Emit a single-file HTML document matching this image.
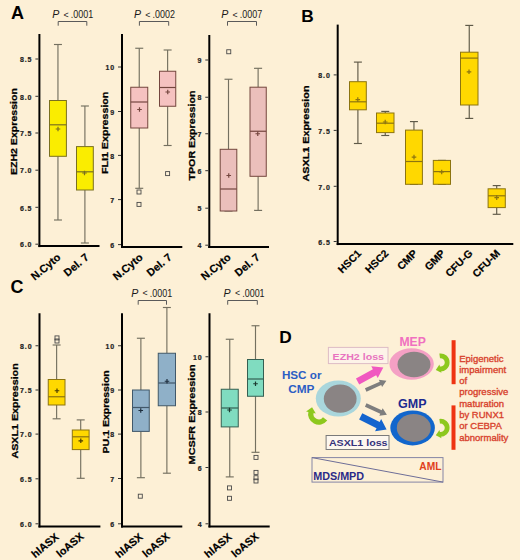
<!DOCTYPE html>
<html><head><meta charset="utf-8"><style>
html,body{margin:0;padding:0;background:#FDF0D6;}
svg{display:block;}
text{font-family:"Liberation Sans",sans-serif;}
.tk{font-family:"Liberation Sans",sans-serif;font-weight:bold;font-size:7px;letter-spacing:0.9px;fill:#222;stroke:#222;stroke-width:0.2px;}
.yl{font-weight:bold;fill:#000;stroke:#000;stroke-width:0.25px;}
.xl{font-weight:bold;fill:#000;stroke:#000;stroke-width:0.2px;}
.pv{font-size:11px;fill:#1a1a1a;}
.pl{font-weight:bold;font-size:18px;fill:#000;}
.dt{font-weight:bold;font-size:11px;}
.dt2{font-weight:bold;font-size:12.5px;}
.rt{font-size:9.5px;fill:#D8432E;stroke:#D8432E;stroke-width:0.35px;}
</style></head><body>
<svg width="520" height="560" viewBox="0 0 520 560">
<rect width="520" height="560" fill="#FDF0D6"/>
<text x="11" y="18.7" class="pl" style="font-size:18px">A</text>
<line x1="39.4" y1="34" x2="39.4" y2="247.1" stroke="#000" stroke-width="2"/>
<line x1="38.4" y1="246.1" x2="99.5" y2="246.1" stroke="#000" stroke-width="2"/>
<line x1="35.4" y1="59" x2="38.4" y2="59" stroke="#333" stroke-width="1"/>
<text x="32.4" y="62.2" class="tk" text-anchor="end">8.5</text>
<line x1="35.4" y1="96.3" x2="38.4" y2="96.3" stroke="#333" stroke-width="1"/>
<text x="32.4" y="99.5" class="tk" text-anchor="end">8.0</text>
<line x1="35.4" y1="133" x2="38.4" y2="133" stroke="#333" stroke-width="1"/>
<text x="32.4" y="136.2" class="tk" text-anchor="end">7.5</text>
<line x1="35.4" y1="170.2" x2="38.4" y2="170.2" stroke="#333" stroke-width="1"/>
<text x="32.4" y="173.4" class="tk" text-anchor="end">7.0</text>
<line x1="35.4" y1="207.3" x2="38.4" y2="207.3" stroke="#333" stroke-width="1"/>
<text x="32.4" y="210.5" class="tk" text-anchor="end">6.5</text>
<line x1="35.4" y1="244.2" x2="38.4" y2="244.2" stroke="#333" stroke-width="1"/>
<text x="32.4" y="247.4" class="tk" text-anchor="end">6.0</text>
<text x="52.2" y="18" class="pv" font-style="italic" style="font-size:10.6px">P</text>
<text x="63.5" y="17.6" class="pv" style="font-size:8.8px">&lt;</text>
<text x="70.8" y="18" class="pv" style="font-size:10.4px" textLength="22.4" lengthAdjust="spacingAndGlyphs">.0001</text>
<path d="M58.2 25.7V21.5H86.8V25.7" fill="none" stroke="#5a5a5a" stroke-width="1"/>
<line x1="57.95" y1="44.5" x2="57.95" y2="100.5" stroke="#747060" stroke-width="1.15"/>
<line x1="53.95" y1="44.5" x2="61.95" y2="44.5" stroke="#747060" stroke-width="1.15"/>
<line x1="57.95" y1="156.3" x2="57.95" y2="220" stroke="#747060" stroke-width="1.15"/>
<line x1="53.95" y1="220" x2="61.95" y2="220" stroke="#747060" stroke-width="1.15"/>
<rect x="49.5" y="100.5" width="16.9" height="55.8" fill="#FAED00" stroke="#7A7020" stroke-width="1"/>
<line x1="49.5" y1="124.8" x2="66.4" y2="124.8" stroke="#7A7020" stroke-width="1.2"/>
<path d="M55.7 129h4.6M58 126.7v4.6" stroke="#7A7020" stroke-width="1.2"/>
<line x1="84.9" y1="106" x2="84.9" y2="146.6" stroke="#747060" stroke-width="1.15"/>
<line x1="80.9" y1="106" x2="88.9" y2="106" stroke="#747060" stroke-width="1.15"/>
<line x1="84.9" y1="190" x2="84.9" y2="243" stroke="#747060" stroke-width="1.15"/>
<line x1="80.9" y1="243" x2="88.9" y2="243" stroke="#747060" stroke-width="1.15"/>
<rect x="76.5" y="146.6" width="16.8" height="43.4" fill="#FAED00" stroke="#7A7020" stroke-width="1"/>
<line x1="76.5" y1="171.8" x2="93.3" y2="171.8" stroke="#7A7020" stroke-width="1.2"/>
<path d="M82.2 173h4.6M84.5 170.7v4.6" stroke="#7A7020" stroke-width="1.2"/>
<text transform="translate(16.8,175.1) rotate(-90)" class="yl" style="font-size:9.4px" textLength="87" lengthAdjust="spacingAndGlyphs">EZH2 Expression</text>
<text transform="translate(61.3,258.5) rotate(-40)" class="xl" text-anchor="end" style="font-size:10.8px">N.Cyto</text>
<text transform="translate(89.5,258.5) rotate(-40)" class="xl" text-anchor="end" style="font-size:10.8px">Del. 7</text>
<line x1="122" y1="34" x2="122" y2="248" stroke="#000" stroke-width="2"/>
<line x1="121" y1="247" x2="182.3" y2="247" stroke="#000" stroke-width="2"/>
<line x1="118" y1="67" x2="121" y2="67" stroke="#333" stroke-width="1"/>
<text x="115" y="70.2" class="tk" text-anchor="end">10</text>
<line x1="118" y1="111.5" x2="121" y2="111.5" stroke="#333" stroke-width="1"/>
<text x="115" y="114.7" class="tk" text-anchor="end">9</text>
<line x1="118" y1="155.4" x2="121" y2="155.4" stroke="#333" stroke-width="1"/>
<text x="115" y="158.6" class="tk" text-anchor="end">8</text>
<line x1="118" y1="199.6" x2="121" y2="199.6" stroke="#333" stroke-width="1"/>
<text x="115" y="202.8" class="tk" text-anchor="end">7</text>
<line x1="118" y1="244.6" x2="121" y2="244.6" stroke="#333" stroke-width="1"/>
<text x="115" y="247.8" class="tk" text-anchor="end">6</text>
<text x="133.9" y="17.9" class="pv" font-style="italic" style="font-size:10.6px">P</text>
<text x="145.2" y="17.5" class="pv" style="font-size:8.8px">&lt;</text>
<text x="152.5" y="17.9" class="pv" style="font-size:10.4px" textLength="22.4" lengthAdjust="spacingAndGlyphs">.0002</text>
<path d="M139.4 25.7V21.5H168.7V25.7" fill="none" stroke="#5a5a5a" stroke-width="1"/>
<line x1="139.25" y1="48.25" x2="139.25" y2="87.25" stroke="#747060" stroke-width="1.15"/>
<line x1="135.25" y1="48.25" x2="143.25" y2="48.25" stroke="#747060" stroke-width="1.15"/>
<line x1="139.25" y1="128" x2="139.25" y2="188.3" stroke="#747060" stroke-width="1.15"/>
<line x1="135.25" y1="188.3" x2="143.25" y2="188.3" stroke="#747060" stroke-width="1.15"/>
<rect x="130.75" y="87.25" width="17" height="40.75" fill="#F5C2C0" stroke="#74463E" stroke-width="1"/>
<line x1="130.75" y1="102" x2="147.75" y2="102" stroke="#74463E" stroke-width="1.2"/>
<path d="M137.2 109.5h4.6M139.5 107.2v4.6" stroke="#74463E" stroke-width="1.2"/>
<rect x="137" y="190" width="4" height="4" fill="none" stroke="#4a4a4a" stroke-width="0.9"/>
<rect x="137" y="202.4" width="4" height="4" fill="none" stroke="#4a4a4a" stroke-width="0.9"/>
<line x1="167.62" y1="50" x2="167.62" y2="71.25" stroke="#747060" stroke-width="1.15"/>
<line x1="163.62" y1="50" x2="171.62" y2="50" stroke="#747060" stroke-width="1.15"/>
<line x1="167.62" y1="106.25" x2="167.62" y2="145.5" stroke="#747060" stroke-width="1.15"/>
<line x1="163.62" y1="145.5" x2="171.62" y2="145.5" stroke="#747060" stroke-width="1.15"/>
<rect x="159.5" y="71.25" width="16.25" height="35" fill="#F5C2C0" stroke="#74463E" stroke-width="1"/>
<line x1="159.5" y1="87.5" x2="175.75" y2="87.5" stroke="#74463E" stroke-width="1.2"/>
<path d="M165.45 92h4.6M167.75 89.7v4.6" stroke="#74463E" stroke-width="1.2"/>
<rect x="165.6" y="171.6" width="4" height="4" fill="none" stroke="#4a4a4a" stroke-width="0.9"/>
<text transform="translate(108.1,174.1) rotate(-90)" class="yl" style="font-size:9.4px" textLength="82.5" lengthAdjust="spacingAndGlyphs">FLI1 Expression</text>
<text transform="translate(143.5,258.5) rotate(-40)" class="xl" text-anchor="end" style="font-size:10.8px">N.Cyto</text>
<text transform="translate(172.5,258.5) rotate(-40)" class="xl" text-anchor="end" style="font-size:10.8px">Del. 7</text>
<line x1="209.3" y1="35" x2="209.3" y2="248" stroke="#000" stroke-width="2"/>
<line x1="208.3" y1="247" x2="269" y2="247" stroke="#000" stroke-width="2"/>
<line x1="205.3" y1="60" x2="208.3" y2="60" stroke="#333" stroke-width="1"/>
<text x="202.3" y="63.2" class="tk" text-anchor="end">9</text>
<line x1="205.3" y1="97.25" x2="208.3" y2="97.25" stroke="#333" stroke-width="1"/>
<text x="202.3" y="100.45" class="tk" text-anchor="end">8</text>
<line x1="205.3" y1="133.75" x2="208.3" y2="133.75" stroke="#333" stroke-width="1"/>
<text x="202.3" y="136.95" class="tk" text-anchor="end">7</text>
<line x1="205.3" y1="170.7" x2="208.3" y2="170.7" stroke="#333" stroke-width="1"/>
<text x="202.3" y="173.9" class="tk" text-anchor="end">6</text>
<line x1="205.3" y1="208.2" x2="208.3" y2="208.2" stroke="#333" stroke-width="1"/>
<text x="202.3" y="211.4" class="tk" text-anchor="end">5</text>
<line x1="205.3" y1="245.2" x2="208.3" y2="245.2" stroke="#333" stroke-width="1"/>
<text x="202.3" y="248.4" class="tk" text-anchor="end">4</text>
<text x="221.2" y="17.9" class="pv" font-style="italic" style="font-size:10.6px">P</text>
<text x="232.5" y="17.5" class="pv" style="font-size:8.8px">&lt;</text>
<text x="239.8" y="17.9" class="pv" style="font-size:10.4px" textLength="22.4" lengthAdjust="spacingAndGlyphs">.0007</text>
<path d="M227.5 25.7V21.5H256.5V25.7" fill="none" stroke="#5a5a5a" stroke-width="1"/>
<line x1="228.5" y1="79.25" x2="228.5" y2="149.3" stroke="#747060" stroke-width="1.15"/>
<line x1="224.5" y1="79.25" x2="232.5" y2="79.25" stroke="#747060" stroke-width="1.15"/>
<line x1="224.5" y1="211" x2="232.5" y2="211" stroke="#747060" stroke-width="1.15"/>
<rect x="220.2" y="149.3" width="16.6" height="61.7" fill="#EBBFBB" stroke="#74463E" stroke-width="1"/>
<line x1="220.2" y1="189" x2="236.8" y2="189" stroke="#74463E" stroke-width="1.2"/>
<path d="M226.45 175.5h4.6M228.75 173.2v4.6" stroke="#74463E" stroke-width="1.2"/>
<rect x="226.75" y="49.75" width="4" height="4" fill="none" stroke="#4a4a4a" stroke-width="0.9"/>
<line x1="258.12" y1="68.3" x2="258.12" y2="87.2" stroke="#747060" stroke-width="1.15"/>
<line x1="254.12" y1="68.3" x2="262.12" y2="68.3" stroke="#747060" stroke-width="1.15"/>
<line x1="258.12" y1="176.3" x2="258.12" y2="210.4" stroke="#747060" stroke-width="1.15"/>
<line x1="254.12" y1="210.4" x2="262.12" y2="210.4" stroke="#747060" stroke-width="1.15"/>
<rect x="250" y="87.2" width="16.25" height="89.1" fill="#EBBFBB" stroke="#74463E" stroke-width="1"/>
<line x1="250" y1="131.25" x2="266.25" y2="131.25" stroke="#74463E" stroke-width="1.2"/>
<path d="M255.45 133.75h4.6M257.75 131.45v4.6" stroke="#74463E" stroke-width="1.2"/>
<text transform="translate(194.8,180.5) rotate(-90)" class="yl" style="font-size:9.4px" textLength="90" lengthAdjust="spacingAndGlyphs">TPOR Expression</text>
<text transform="translate(231.5,258.5) rotate(-40)" class="xl" text-anchor="end" style="font-size:10.8px">N.Cyto</text>
<text transform="translate(260.5,258.5) rotate(-40)" class="xl" text-anchor="end" style="font-size:10.8px">Del. 7</text>
<text x="301.2" y="22.3" class="pl" style="font-size:17.3px">B</text>
<line x1="337.7" y1="24.6" x2="337.7" y2="245.1" stroke="#000" stroke-width="2"/>
<line x1="336.7" y1="244.1" x2="513.3" y2="244.1" stroke="#000" stroke-width="2"/>
<line x1="333.7" y1="74.9" x2="336.7" y2="74.9" stroke="#333" stroke-width="1"/>
<text x="330.7" y="78.1" class="tk" text-anchor="end">8.0</text>
<line x1="333.7" y1="130.4" x2="336.7" y2="130.4" stroke="#333" stroke-width="1"/>
<text x="330.7" y="133.6" class="tk" text-anchor="end">7.5</text>
<line x1="333.7" y1="186.3" x2="336.7" y2="186.3" stroke="#333" stroke-width="1"/>
<text x="330.7" y="189.5" class="tk" text-anchor="end">7.0</text>
<line x1="333.7" y1="241.5" x2="336.7" y2="241.5" stroke="#333" stroke-width="1"/>
<text x="330.7" y="244.7" class="tk" text-anchor="end">6.5</text>
<line x1="357.9" y1="62.1" x2="357.9" y2="81.7" stroke="#5f5a48" stroke-width="1.15"/>
<line x1="353.9" y1="62.1" x2="361.9" y2="62.1" stroke="#5f5a48" stroke-width="1.15"/>
<line x1="357.9" y1="109.8" x2="357.9" y2="143.5" stroke="#5f5a48" stroke-width="1.15"/>
<line x1="353.9" y1="143.5" x2="361.9" y2="143.5" stroke="#5f5a48" stroke-width="1.15"/>
<rect x="349.5" y="81.7" width="16.8" height="28.1" fill="#FFD800" stroke="#8C7410" stroke-width="1"/>
<line x1="349.5" y1="101.8" x2="366.3" y2="101.8" stroke="#8C7410" stroke-width="1.2"/>
<path d="M355.5 99.6h4.6M357.8 97.3v4.6" stroke="#8C7410" stroke-width="1.2"/>
<line x1="385.25" y1="111.4" x2="385.25" y2="113" stroke="#5f5a48" stroke-width="1.15"/>
<line x1="381.25" y1="111.4" x2="389.25" y2="111.4" stroke="#5f5a48" stroke-width="1.15"/>
<line x1="385.25" y1="132.6" x2="385.25" y2="135.5" stroke="#5f5a48" stroke-width="1.15"/>
<line x1="381.25" y1="135.5" x2="389.25" y2="135.5" stroke="#5f5a48" stroke-width="1.15"/>
<rect x="376.5" y="113" width="17.5" height="19.6" fill="#FFD800" stroke="#8C7410" stroke-width="1"/>
<line x1="376.5" y1="123.2" x2="394" y2="123.2" stroke="#8C7410" stroke-width="1.2"/>
<path d="M382.9 122h4.6M385.2 119.7v4.6" stroke="#8C7410" stroke-width="1.2"/>
<line x1="413.95" y1="121.6" x2="413.95" y2="130.1" stroke="#5f5a48" stroke-width="1.15"/>
<line x1="409.95" y1="121.6" x2="417.95" y2="121.6" stroke="#5f5a48" stroke-width="1.15"/>
<line x1="409.95" y1="184.3" x2="417.95" y2="184.3" stroke="#5f5a48" stroke-width="1.15"/>
<rect x="405.5" y="130.1" width="16.9" height="54.2" fill="#FFD800" stroke="#8C7410" stroke-width="1"/>
<line x1="405.5" y1="161.5" x2="422.4" y2="161.5" stroke="#8C7410" stroke-width="1.2"/>
<path d="M411.7 157.1h4.6M414 154.8v4.6" stroke="#8C7410" stroke-width="1.2"/>
<line x1="437.9" y1="160.4" x2="445.9" y2="160.4" stroke="#5f5a48" stroke-width="1.15"/>
<line x1="437.9" y1="184.3" x2="445.9" y2="184.3" stroke="#5f5a48" stroke-width="1.15"/>
<rect x="433.3" y="160.4" width="17.2" height="23.9" fill="#FFD800" stroke="#8C7410" stroke-width="1"/>
<line x1="433.3" y1="171.6" x2="450.5" y2="171.6" stroke="#8C7410" stroke-width="1.2"/>
<path d="M439.4 172h4.6M441.7 169.7v4.6" stroke="#8C7410" stroke-width="1.2"/>
<line x1="469.25" y1="25.4" x2="469.25" y2="52.2" stroke="#5f5a48" stroke-width="1.15"/>
<line x1="465.25" y1="25.4" x2="473.25" y2="25.4" stroke="#5f5a48" stroke-width="1.15"/>
<line x1="469.25" y1="105" x2="469.25" y2="118.4" stroke="#5f5a48" stroke-width="1.15"/>
<line x1="465.25" y1="118.4" x2="473.25" y2="118.4" stroke="#5f5a48" stroke-width="1.15"/>
<rect x="460.5" y="52.2" width="17.5" height="52.8" fill="#FFD800" stroke="#8C7410" stroke-width="1"/>
<line x1="460.5" y1="58.1" x2="478" y2="58.1" stroke="#8C7410" stroke-width="1.2"/>
<path d="M466.7 71.8h4.6M469 69.5v4.6" stroke="#8C7410" stroke-width="1.2"/>
<line x1="496.7" y1="185.6" x2="496.7" y2="188.8" stroke="#5f5a48" stroke-width="1.15"/>
<line x1="492.7" y1="185.6" x2="500.7" y2="185.6" stroke="#5f5a48" stroke-width="1.15"/>
<line x1="496.7" y1="207.6" x2="496.7" y2="214.3" stroke="#5f5a48" stroke-width="1.15"/>
<line x1="492.7" y1="214.3" x2="500.7" y2="214.3" stroke="#5f5a48" stroke-width="1.15"/>
<rect x="488.1" y="188.8" width="17.2" height="18.8" fill="#FFD800" stroke="#8C7410" stroke-width="1"/>
<line x1="488.1" y1="195.8" x2="505.3" y2="195.8" stroke="#8C7410" stroke-width="1.2"/>
<path d="M494.4 197.6h4.6M496.7 195.3v4.6" stroke="#8C7410" stroke-width="1.2"/>
<text transform="translate(309.3,181.5) rotate(-90)" class="yl" style="font-size:9.4px" textLength="96" lengthAdjust="spacingAndGlyphs">ASXL1 Expression</text>
<text transform="translate(362,254) rotate(-45)" class="xl" text-anchor="end" style="font-size:10.5px">HSC1</text>
<text transform="translate(389.2,254) rotate(-45)" class="xl" text-anchor="end" style="font-size:10.5px">HSC2</text>
<text transform="translate(418,254) rotate(-45)" class="xl" text-anchor="end" style="font-size:10.5px">CMP</text>
<text transform="translate(445.8,254) rotate(-45)" class="xl" text-anchor="end" style="font-size:10.5px">GMP</text>
<text transform="translate(473.2,254) rotate(-45)" class="xl" text-anchor="end" style="font-size:10.5px">CFU-G</text>
<text transform="translate(500.7,254) rotate(-45)" class="xl" text-anchor="end" style="font-size:10.5px">CFU-M</text>
<text x="10.6" y="292.6" class="pl" style="font-size:18px">C</text>
<line x1="39.5" y1="313.25" x2="39.5" y2="527.4" stroke="#000" stroke-width="2"/>
<line x1="38.5" y1="526.4" x2="100.4" y2="526.4" stroke="#000" stroke-width="2"/>
<line x1="35.5" y1="345.75" x2="38.5" y2="345.75" stroke="#333" stroke-width="1"/>
<text x="32.5" y="348.95" class="tk" text-anchor="end">8.0</text>
<line x1="35.5" y1="390" x2="38.5" y2="390" stroke="#333" stroke-width="1"/>
<text x="32.5" y="393.2" class="tk" text-anchor="end">7.5</text>
<line x1="35.5" y1="434.1" x2="38.5" y2="434.1" stroke="#333" stroke-width="1"/>
<text x="32.5" y="437.3" class="tk" text-anchor="end">7.0</text>
<line x1="35.5" y1="478.8" x2="38.5" y2="478.8" stroke="#333" stroke-width="1"/>
<text x="32.5" y="482" class="tk" text-anchor="end">6.5</text>
<line x1="35.5" y1="523.8" x2="38.5" y2="523.8" stroke="#333" stroke-width="1"/>
<text x="32.5" y="527" class="tk" text-anchor="end">6.0</text>
<line x1="56.62" y1="345" x2="56.62" y2="379.5" stroke="#747060" stroke-width="1.15"/>
<line x1="52.62" y1="345" x2="60.62" y2="345" stroke="#747060" stroke-width="1.15"/>
<line x1="56.62" y1="405" x2="56.62" y2="418.8" stroke="#747060" stroke-width="1.15"/>
<line x1="52.62" y1="418.8" x2="60.62" y2="418.8" stroke="#747060" stroke-width="1.15"/>
<rect x="48.25" y="379.5" width="16.75" height="25.5" fill="#FFD800" stroke="#8C7410" stroke-width="1"/>
<line x1="48.25" y1="396.75" x2="65" y2="396.75" stroke="#8C7410" stroke-width="1.2"/>
<path d="M54.7 390.75h4.6M57 388.45v4.6" stroke="#4A3C00" stroke-width="1.2"/>
<rect x="55" y="335.9" width="4" height="4" fill="none" stroke="#4a4a4a" stroke-width="0.9"/>
<rect x="55" y="339" width="4" height="4" fill="none" stroke="#4a4a4a" stroke-width="0.9"/>
<line x1="80.7" y1="419.9" x2="80.7" y2="430" stroke="#747060" stroke-width="1.15"/>
<line x1="76.7" y1="419.9" x2="84.7" y2="419.9" stroke="#747060" stroke-width="1.15"/>
<line x1="80.7" y1="449.6" x2="80.7" y2="478.3" stroke="#747060" stroke-width="1.15"/>
<line x1="76.7" y1="478.3" x2="84.7" y2="478.3" stroke="#747060" stroke-width="1.15"/>
<rect x="72.3" y="430" width="16.8" height="19.6" fill="#FFD800" stroke="#8C7410" stroke-width="1"/>
<line x1="72.3" y1="436.8" x2="89.1" y2="436.8" stroke="#8C7410" stroke-width="1.2"/>
<path d="M78.5 440.8h4.6M80.8 438.5v4.6" stroke="#4A3C00" stroke-width="1.2"/>
<text transform="translate(17.7,458.5) rotate(-90)" class="yl" style="font-size:9.4px" textLength="95.2" lengthAdjust="spacingAndGlyphs">ASXL1 Expression</text>
<text transform="translate(59.5,538) rotate(-40)" class="xl" text-anchor="end" style="font-size:10.8px">hlASX</text>
<text transform="translate(84.5,537.5) rotate(-40)" class="xl" text-anchor="end" style="font-size:10.8px">loASX</text>
<line x1="122" y1="313.25" x2="122" y2="527.4" stroke="#000" stroke-width="2"/>
<line x1="121" y1="526.4" x2="182.3" y2="526.4" stroke="#000" stroke-width="2"/>
<line x1="118" y1="345.75" x2="121" y2="345.75" stroke="#333" stroke-width="1"/>
<text x="115" y="348.95" class="tk" text-anchor="end">10</text>
<line x1="118" y1="390" x2="121" y2="390" stroke="#333" stroke-width="1"/>
<text x="115" y="393.2" class="tk" text-anchor="end">9</text>
<line x1="118" y1="434.1" x2="121" y2="434.1" stroke="#333" stroke-width="1"/>
<text x="115" y="437.3" class="tk" text-anchor="end">8</text>
<line x1="118" y1="478.5" x2="121" y2="478.5" stroke="#333" stroke-width="1"/>
<text x="115" y="481.7" class="tk" text-anchor="end">7</text>
<line x1="118" y1="523.8" x2="121" y2="523.8" stroke="#333" stroke-width="1"/>
<text x="115" y="527" class="tk" text-anchor="end">6</text>
<text x="131.2" y="296.8" class="pv" font-style="italic" style="font-size:10.6px">P</text>
<text x="142.5" y="296.4" class="pv" style="font-size:8.8px">&lt;</text>
<text x="149.8" y="296.8" class="pv" style="font-size:10.4px" textLength="22.4" lengthAdjust="spacingAndGlyphs">.0001</text>
<path d="M138.2 304.7V300.5H166.5V304.7" fill="none" stroke="#5a5a5a" stroke-width="1"/>
<line x1="140.88" y1="338.25" x2="140.88" y2="390" stroke="#747060" stroke-width="1.15"/>
<line x1="136.88" y1="338.25" x2="144.88" y2="338.25" stroke="#747060" stroke-width="1.15"/>
<line x1="140.88" y1="431.4" x2="140.88" y2="477.7" stroke="#747060" stroke-width="1.15"/>
<line x1="136.88" y1="477.7" x2="144.88" y2="477.7" stroke="#747060" stroke-width="1.15"/>
<rect x="132.5" y="390" width="16.75" height="41.4" fill="#8FB0C8" stroke="#41586A" stroke-width="1"/>
<line x1="132.5" y1="407.5" x2="149.25" y2="407.5" stroke="#41586A" stroke-width="1.2"/>
<path d="M138.45 410.5h4.6M140.75 408.2v4.6" stroke="#1E2E3E" stroke-width="1.2"/>
<rect x="138.3" y="494.2" width="4" height="4" fill="none" stroke="#4a4a4a" stroke-width="0.9"/>
<line x1="166.88" y1="307.5" x2="166.88" y2="353.25" stroke="#747060" stroke-width="1.15"/>
<line x1="162.88" y1="307.5" x2="170.88" y2="307.5" stroke="#747060" stroke-width="1.15"/>
<line x1="166.88" y1="405.75" x2="166.88" y2="473.2" stroke="#747060" stroke-width="1.15"/>
<line x1="162.88" y1="473.2" x2="170.88" y2="473.2" stroke="#747060" stroke-width="1.15"/>
<rect x="158.25" y="353.25" width="17.25" height="52.5" fill="#8FB0C8" stroke="#41586A" stroke-width="1"/>
<line x1="158.25" y1="383" x2="175.5" y2="383" stroke="#41586A" stroke-width="1.2"/>
<path d="M164.7 381.25h4.6M167 378.95v4.6" stroke="#1E2E3E" stroke-width="1.2"/>
<text transform="translate(109.2,453.5) rotate(-90)" class="yl" style="font-size:9.4px" textLength="83.3" lengthAdjust="spacingAndGlyphs">PU.1 Expression</text>
<text transform="translate(143.5,538) rotate(-40)" class="xl" text-anchor="end" style="font-size:10.8px">hlASX</text>
<text transform="translate(170.5,537.5) rotate(-40)" class="xl" text-anchor="end" style="font-size:10.8px">loASX</text>
<line x1="209.5" y1="313.25" x2="209.5" y2="527.4" stroke="#000" stroke-width="2"/>
<line x1="208.5" y1="526.4" x2="269.7" y2="526.4" stroke="#000" stroke-width="2"/>
<line x1="205.5" y1="356.75" x2="208.5" y2="356.75" stroke="#333" stroke-width="1"/>
<text x="202.5" y="359.95" class="tk" text-anchor="end">10</text>
<line x1="205.5" y1="412" x2="208.5" y2="412" stroke="#333" stroke-width="1"/>
<text x="202.5" y="415.2" class="tk" text-anchor="end">8</text>
<line x1="205.5" y1="467.5" x2="208.5" y2="467.5" stroke="#333" stroke-width="1"/>
<text x="202.5" y="470.7" class="tk" text-anchor="end">6</text>
<line x1="205.5" y1="523.8" x2="208.5" y2="523.8" stroke="#333" stroke-width="1"/>
<text x="202.5" y="527" class="tk" text-anchor="end">4</text>
<text x="223.6" y="296.6" class="pv" font-style="italic" style="font-size:10.6px">P</text>
<text x="234.9" y="296.2" class="pv" style="font-size:8.8px">&lt;</text>
<text x="242.2" y="296.6" class="pv" style="font-size:10.4px" textLength="22.4" lengthAdjust="spacingAndGlyphs">.0001</text>
<path d="M227.7 304.7V300.5H257.3V304.7" fill="none" stroke="#5a5a5a" stroke-width="1"/>
<line x1="229.75" y1="339.25" x2="229.75" y2="389.25" stroke="#747060" stroke-width="1.15"/>
<line x1="225.75" y1="339.25" x2="233.75" y2="339.25" stroke="#747060" stroke-width="1.15"/>
<line x1="229.75" y1="426.9" x2="229.75" y2="476.9" stroke="#747060" stroke-width="1.15"/>
<line x1="225.75" y1="476.9" x2="233.75" y2="476.9" stroke="#747060" stroke-width="1.15"/>
<rect x="221.25" y="389.25" width="17" height="37.65" fill="#80DCC0" stroke="#355F52" stroke-width="1"/>
<line x1="221.25" y1="408" x2="238.25" y2="408" stroke="#355F52" stroke-width="1.2"/>
<path d="M227.2 410h4.6M229.5 407.7v4.6" stroke="#1C3A30" stroke-width="1.2"/>
<rect x="227.5" y="485.9" width="4" height="4" fill="none" stroke="#4a4a4a" stroke-width="0.9"/>
<rect x="227.5" y="496.3" width="4" height="4" fill="none" stroke="#4a4a4a" stroke-width="0.9"/>
<line x1="255.5" y1="325.75" x2="255.5" y2="359.5" stroke="#747060" stroke-width="1.15"/>
<line x1="251.5" y1="325.75" x2="259.5" y2="325.75" stroke="#747060" stroke-width="1.15"/>
<line x1="255.5" y1="396.25" x2="255.5" y2="452.3" stroke="#747060" stroke-width="1.15"/>
<line x1="251.5" y1="452.3" x2="259.5" y2="452.3" stroke="#747060" stroke-width="1.15"/>
<rect x="247.5" y="359.5" width="16" height="36.75" fill="#80DCC0" stroke="#355F52" stroke-width="1"/>
<line x1="247.5" y1="379" x2="263.5" y2="379" stroke="#355F52" stroke-width="1.2"/>
<path d="M253.2 383.75h4.6M255.5 381.45v4.6" stroke="#1C3A30" stroke-width="1.2"/>
<rect x="254" y="455.4" width="4" height="4" fill="none" stroke="#4a4a4a" stroke-width="0.9"/>
<rect x="254" y="470.4" width="4" height="4" fill="none" stroke="#4a4a4a" stroke-width="0.9"/>
<rect x="254" y="475.7" width="4" height="4" fill="none" stroke="#4a4a4a" stroke-width="0.9"/>
<rect x="254" y="479" width="4" height="4" fill="none" stroke="#4a4a4a" stroke-width="0.9"/>
<text transform="translate(195.2,464.4) rotate(-90)" class="yl" style="font-size:9.4px" textLength="100" lengthAdjust="spacingAndGlyphs">MCSFR Expression</text>
<text transform="translate(232.5,538) rotate(-40)" class="xl" text-anchor="end" style="font-size:10.8px">hlASX</text>
<text transform="translate(259.5,537.5) rotate(-40)" class="xl" text-anchor="end" style="font-size:10.8px">loASX</text>
<text x="279.3" y="342.9" class="pl" style="font-size:17.3px">D</text>
<rect x="328.4" y="347.4" width="59.6" height="16.2" fill="#FDF3E8" stroke="#DDBCC6" stroke-width="1"/>
<text x="332.6" y="359.9" class="dt" fill="#E874C0" style="font-size:9.7px" textLength="51.4" lengthAdjust="spacingAndGlyphs">EZH2 loss</text>
<text x="301.7" y="378.7" class="dt2" text-anchor="middle" fill="#2C5EC4" style="font-size:11.7px">HSC or</text>
<text x="301.3" y="392.8" class="dt2" text-anchor="middle" fill="#2C5EC4" style="font-size:11.8px">CMP</text>
<ellipse cx="338.3" cy="398.5" rx="22.5" ry="18" fill="#A9D6DC"/>
<ellipse cx="340.2" cy="398.7" rx="16.4" ry="14.1" fill="#8A8484"/>
<text x="412.6" y="346.4" class="dt2" text-anchor="middle" fill="#F070C0" style="font-size:12.2px">MEP</text>
<ellipse cx="411.6" cy="364" rx="22.2" ry="15.7" fill="#F4A0C4"/>
<ellipse cx="414" cy="364.5" rx="16.5" ry="12.7" fill="#8A8484"/>
<text x="412.3" y="408" class="dt2" text-anchor="middle" fill="#1C2A90" style="font-size:12.5px">GMP</text>
<ellipse cx="412.6" cy="427.9" rx="22.3" ry="17.5" fill="#1266CC"/>
<ellipse cx="413.8" cy="427.9" rx="17" ry="14" fill="#8A8484"/>
<polygon points="359.23,384.39 376.14,375.17 377.75,378.11 383.3,367.4 371.29,366.26 372.89,369.2 355.97,378.41" fill="#F058C0"/>
<polygon points="366.44,391.64 381.21,385.01 382.11,387.01 386.4,380.7 378.83,379.72 379.73,381.72 364.96,388.36" fill="#7E7E7E"/>
<polygon points="364.95,406.64 380.24,413.63 379.33,415.63 386.9,414.7 382.65,408.36 381.74,410.36 366.45,403.36" fill="#7E7E7E"/>
<polygon points="359.13,419.53 376.54,428.27 375.08,431.17 386.6,429.4 381.14,419.11 379.68,422.01 362.27,413.27" fill="#1464CE"/>
<rect x="326.1" y="435.5" width="62.9" height="14" fill="#FDF7EE" stroke="#7a7a7a" stroke-width="1"/>
<text x="328.9" y="445.9" class="dt" fill="#35327C" style="font-size:9.7px" textLength="58.6" lengthAdjust="spacingAndGlyphs">ASXL1 loss</text>
<path d="M325.1 418.93A8 8 0 0 1 311.11 411.79" fill="none" stroke="#8DC81E" stroke-width="5.4"/>
<polygon points="306.05,411.54 312.07,407.3 315.83,413.62" fill="#8DC81E"/>
<path d="M439.68 355.86A6.6 6.6 0 1 1 439.68 368.94" fill="none" stroke="#8DC81E" stroke-width="4.8"/>
<polygon points="441.49,372.87 435.8,369.9 439.43,364.62" fill="#8DC81E"/>
<path d="M439.68 421.26A6.6 6.6 0 1 1 439.68 434.34" fill="none" stroke="#8DC81E" stroke-width="4.8"/>
<polygon points="441.49,438.27 435.8,435.3 439.43,430.02" fill="#8DC81E"/>
<rect x="451.6" y="340.2" width="4" height="44" fill="#EE3412"/>
<rect x="451.5" y="405.4" width="4" height="44.4" fill="#EE3412"/>
<text x="459.2" y="361.5" class="rt">Epigenetic</text>
<text x="459.2" y="372.8" class="rt">impairment</text>
<text x="459.2" y="384.1" class="rt">of</text>
<text x="459.2" y="395.4" class="rt">progressive</text>
<text x="459.2" y="406.7" class="rt">maturation</text>
<text x="459.2" y="418" class="rt">by RUNX1</text>
<text x="459.2" y="429.3" class="rt">or CEBPA</text>
<text x="459.2" y="440.6" class="rt">abnormality</text>
<rect x="312" y="457.6" width="131" height="24.5" fill="none" stroke="#8585A5" stroke-width="1"/>
<line x1="312" y1="457.6" x2="443" y2="482.1" stroke="#6E6E98" stroke-width="1"/>
<text x="419.3" y="469.6" class="dt" fill="#E04020" style="font-size:10.2px">AML</text>
<text x="313.2" y="480.4" class="dt" fill="#2A2A88" style="font-size:10.2px" textLength="50.9" lengthAdjust="spacingAndGlyphs">MDS/MPD</text>
</svg>
</body></html>
